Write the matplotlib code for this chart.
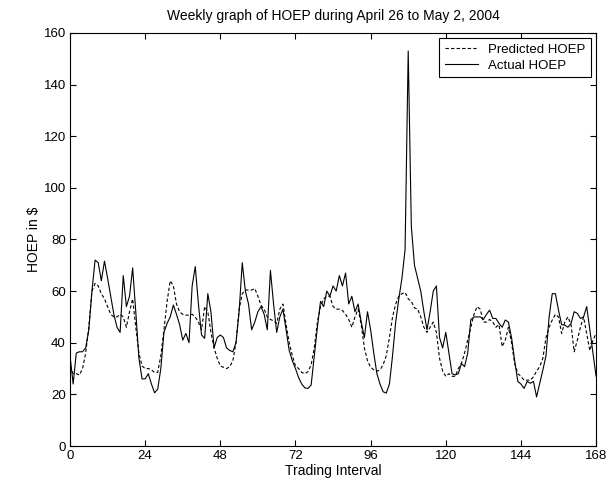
import matplotlib
matplotlib.use("Agg")
import matplotlib.pyplot as plt
import numpy as np

plt.rcParams['font.family'] = ['Liberation Sans', 'DejaVu Sans']

# - DATA -
actual = [35, 24, 36, 36.5, 36.5, 38, 45, 60, 72, 71,
          64, 71.6, 65, 58, 51, 46, 44, 66, 54, 58,
          69, 52, 34, 26, 26, 28, 24, 20.6, 22, 30,
          44, 47.5, 50, 54.6, 51, 47, 41, 43.6, 40, 62,
          69.5, 55, 43, 41.7, 59, 52, 38, 42, 43, 42,
          38, 37, 36.5, 40, 52, 71, 60, 55, 45, 48,
          52, 54, 51, 45, 68, 55, 44, 50, 53, 45,
          37, 33, 30, 26.5, 24, 22.5, 22.3, 23.6, 35, 46,
          56, 54, 60, 58, 62, 60, 66, 62, 67, 55,
          58, 52, 55, 48, 42, 52, 45, 36, 28, 24,
          21, 20.5, 24, 35, 48, 57, 65, 76, 153, 85,
          70, 65, 60, 52, 45, 52, 60, 62, 42, 38,
          44, 36, 28, 27.5, 28, 32, 30.7, 36, 49, 50,
          50, 50, 49, 51, 52.6, 49.4, 49.4, 47.5, 46, 48.8,
          48, 42, 33, 25, 24, 22.3, 25, 24.3, 25, 19,
          24.3, 29.4, 35, 50, 59, 59, 52.6, 47, 46.8, 46,
          47.5, 52, 51.4, 49.4, 50, 54, 45, 36, 27]

predicted = [31, 28, 28, 27.5, 30, 36, 46, 60, 63, 62,
             59, 57, 54, 51, 50, 50, 51, 50, 46, 52,
             57, 46, 36, 31, 30, 30, 29.5, 28.5, 28.5, 35,
             45, 56, 64, 62, 55, 52, 51, 50.7, 50.7, 51,
             50, 48, 45, 54, 52, 44, 38, 34, 31, 30.5,
             30, 30.7, 33, 40, 53, 59, 60.4, 60.4, 60.4, 61,
             58, 54.5, 53, 50, 49, 48.5, 47.5, 53, 55, 47,
             40, 35, 31, 30, 28.5, 28, 28.8, 31.4, 38, 48,
             54, 57, 58, 58, 54, 53, 53, 52.5, 51, 49,
             46, 50, 53, 47, 38, 33, 30.5, 29.5, 29, 29.5,
             31.5, 35, 42, 50, 55, 58, 59, 59.5, 57, 56,
             53.5, 53, 50, 46, 44, 46, 48, 44, 34, 29,
             27, 28, 27, 27, 30, 32, 36, 41, 46, 51,
             54, 53, 48, 48, 49, 48, 46, 47, 38.5, 41,
             46, 40, 32, 28, 27, 25.5, 25.5, 25.5, 26.8, 29,
             30.7, 34, 42, 46, 48.8, 51, 50, 43.6, 48, 50,
             47, 36.5, 41, 46, 50, 43.6, 37, 41, 43.6]

hours = np.arange(len(actual))
xticks = [0, 24, 48, 72, 96, 120, 144, 168]
yticks = [0, 20, 40, 60, 80, 100, 120, 140, 160]
# - DATA -

fig = plt.figure(figsize=(6.11, 4.86), dpi=100)
ax = fig.add_axes([0.1146, 0.0823, 0.861, 0.85])

ax.plot(hours, predicted, 'k--', linewidth=0.8, dashes=(3, 2), label='Predicted HOEP')
ax.plot(hours, actual, 'k-', linewidth=0.8, label='Actual HOEP')

ax.set_xlim(0, 168)
ax.set_ylim(0, 160)
ax.set_xticks(xticks)
ax.set_yticks(yticks)
ax.tick_params(direction='in', top=True, right=True, length=4, width=0.8,
               labelsize=9.5, pad=3)
for s in ax.spines.values():
    s.set_linewidth(0.8)

ax.set_title('Weekly graph of HOEP during April 26 to May 2, 2004', fontsize=10, pad=9)
ax.set_xlabel('Trading Interval', fontsize=10, labelpad=1)
ax.set_ylabel('HOEP in $', fontsize=10, labelpad=2)

leg = ax.legend(loc='upper right', fontsize=9.5, fancybox=False, framealpha=1,
                edgecolor='black', handlelength=2.5, borderpad=0.4,
                labelspacing=0.3, borderaxespad=0.4)
leg.get_frame().set_linewidth(0.8)

fig.savefig('out.png', dpi=100)
